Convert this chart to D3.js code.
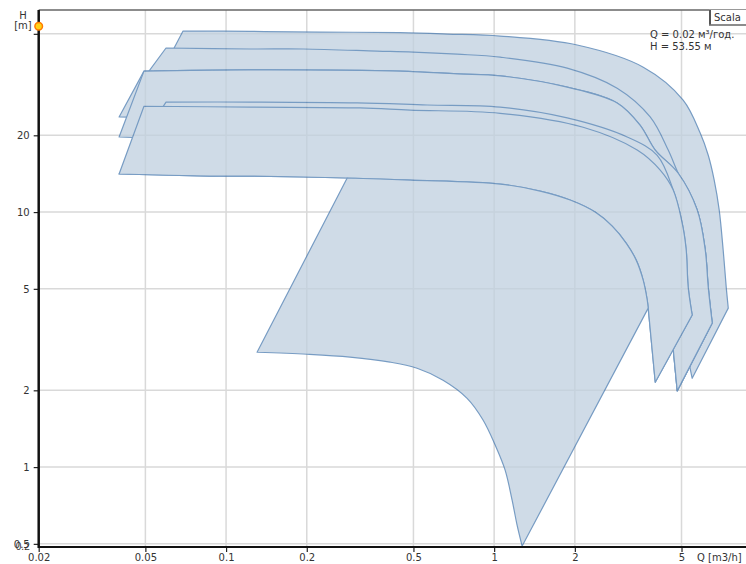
<!DOCTYPE html>
<html>
<head>
<meta charset="utf-8">
<script src="https://cdn.jsdelivr.net/npm/d3@7"></script>
<style>
  body { margin: 0; background: #fff; }
  svg { display: block; font-family: "DejaVu Sans", Arial, sans-serif; }
</style>
</head>
<body>
<svg id="chart" width="746" height="564"></svg>
<script>
// ---- axis ticks and grid ----
const qTicks = [0.02, 0.05, 0.1, 0.2, 0.5, 1, 2, 5];
const hTicks = [0.5, 1, 2, 5, 10, 20, 50];
const qGrid = [0.05, 0.1, 0.2, 0.5, 1, 2, 5];
const hGrid = [0.5, 1, 2, 5, 10, 20, 50];

// ---- pump range curves, [Q m3/h, H m] ----
const s1Top = [[0.0691,51.3],[0.123,51.1],[0.224,50.8],[0.446,50.5],[0.668,49.9],[1.053,49.0],[2.04,45.2],[3.60,37.0],[5.07,27.5],[5.87,20.4],[6.29,16.7],[6.62,13.35],[6.91,10.2],[7.15,7.1],[7.34,5.08],[7.47,4.2]];
const s1Min = [[5.48,2.23],[5.21,2.88],[4.74,4.52],[4.16,7.1],[3.22,10.2],[2.09,13.4],[1.05,16.0],[0.189,17.5],[0.052,17.5],[0.0462,22.9]];

const s2Top = [[0.0597,44.0],[0.123,43.6],[0.194,43.6],[0.366,42.8],[0.499,42.4],[0.728,41.6],[1.053,40.5],[1.873,36.7],[2.877,30.6],[3.82,23.6],[4.46,17.5],[4.86,14.2],[5.72,10.2],[6.13,7.1],[6.29,5.08],[6.51,3.67]];
const s2Min = [[4.82,1.99],[4.66,2.88],[4.54,3.77],[4.35,5.41],[3.82,7.77],[2.95,10.2],[2.09,12.8],[1.05,15.3],[0.189,17.5],[0.052,17.5],[0.0469,31.2]];

const s3Head = [[0.0494,35.7],[0.123,36.1],[0.446,35.7],[0.728,34.8],[1.053,34.2],[1.873,30.9],[2.877,26.8],[3.506,21.9],[3.99,17.5],[4.86,14.2]];
const s3aFoot = [[0.080,19.2],[0.0567,23.4],[0.0399,23.6]];
const s3bFoot = [[0.080,19.2],[0.0399,19.7]];

const eTop = [[0.0597,27.0],[0.123,27.0],[0.308,26.8],[0.562,26.3],[1.053,25.8],[1.873,23.4],[3.135,19.7],[4.058,16.7],[4.656,12.2]];

const fTop = [[0.0494,26.0],[0.123,25.8],[0.316,25.6],[0.486,25.1],[1.053,24.4],[2.148,21.5],[3.417,17.5],[4.164,14.6],[4.656,12.2],[5.03,9.05],[5.205,7.1],[5.295,5.08],[5.48,3.95]];
const fTip = [3.99, 2.15];
const fBottom = [[3.756,4.20],[3.724,4.52],[3.597,5.41],[3.388,6.48],[3.108,7.56],[2.756,8.81],[2.381,10.0],[1.921,11.15],[1.485,12.09],[1.053,12.88],[0.486,13.35],[0.283,13.6],[0.123,13.84],[0.087,13.84],[0.0399,14.1]];
const lTopIndex = 11; // fBottom point where the lower area starts

const lBottom = [[0.1305,2.82],[0.2005,2.77],[0.290,2.70],[0.409,2.58],[0.516,2.44],[0.645,2.19],[0.793,1.86],[0.909,1.53],[1.009,1.22],[1.099,0.973],[1.167,0.742],[1.218,0.592],[1.272,0.49]];

// cursor readout
const cursor = { q: 0.02, h: 53.55 };

// ---- scales ----
const x = d3.scaleLog().domain([0.02, 8.7]).range([38.7, 746]);
const y = d3.scaleLog().domain([0.486, 62]).range([547, 10]);
const [xL, xR] = x.range();
const [yB, yT] = y.range();

const svg = d3.select("#chart");

// ---- grid ----
const grid = svg.append("g").attr("stroke", "#d9d9d9").attr("stroke-width", 1.5);
grid.selectAll("line.v").data(qGrid).join("line").attr("class", "v")
  .attr("x1", d => x(d)).attr("x2", d => x(d)).attr("y1", yT).attr("y2", yB);
grid.selectAll("line.h").data(hGrid).join("line").attr("class", "h")
  .attr("x1", xL).attr("x2", xR).attr("y1", d => y(d)).attr("y2", d => y(d));

// ---- range areas ----
// each outline is a chain of smooth pieces (curves) and straight pieces
const curveGen = d3.line().x(d => x(d[0])).y(d => y(d[1])).curve(d3.curveCatmullRom.alpha(0.5));
function shapePath(pieces) {
  let d = "";
  pieces.forEach((p, i) => {
    let s;
    if (p.c && p.pts.length > 1) {
      s = curveGen(p.pts).replace(/Z$/, "").slice(1);
    } else {
      s = p.pts.map(pt => `${x(pt[0])},${y(pt[1])}`).join("L");
    }
    d += (i === 0 ? "M" : "L") + s;
  });
  return d + "Z";
}

const s3Top = s3Head.concat(s2Top.slice(12));
const eFull = eTop.concat(fTop.slice(9));

const shapes = [
  [{ c: true, pts: s1Top }, { c: false, pts: s1Min }],
  [{ c: true, pts: s2Top }, { c: false, pts: s2Min }],
  [{ c: true, pts: s3Top }, { c: false, pts: s2Min.slice(0, 9) }, { c: false, pts: s3aFoot }],
  [{ c: true, pts: s3Top }, { c: false, pts: s2Min.slice(0, 9) }, { c: false, pts: s3bFoot }],
  [{ c: true, pts: eFull }, { c: false, pts: [fTip] }, { c: true, pts: fBottom }],
  [{ c: true, pts: fTop }, { c: false, pts: [fTip] }, { c: true, pts: fBottom }],
  [{ c: false, pts: [fBottom[lTopIndex]] }, { c: true, pts: lBottom }, { c: false, pts: [fBottom[0]] }, { c: true, pts: fBottom.slice(0, lTopIndex + 1) }]
];

svg.append("g").attr("opacity", 0.75)
  .selectAll("path").data(shapes).join("path")
  .attr("d", shapePath)
  .attr("fill", "#c0d0df")
  .attr("stroke", "#4a7bb0")
  .attr("stroke-width", 1.2)
  .attr("stroke-linejoin", "round");

// ---- frame ----
svg.append("line").attr("x1", xL).attr("x2", xR).attr("y1", yT).attr("y2", yT)
  .attr("stroke", "#666").attr("stroke-width", 1.5);

// ---- axes ----
const yAxis = svg.append("g").attr("transform", `translate(${xL},0)`)
  .call(d3.axisLeft(y).tickValues(hTicks).tickSize(5).tickPadding(4)
    .tickFormat(d => d === 50 ? "" : String(d)));
yAxis.select(".domain").remove();
yAxis.selectAll("line").attr("stroke", "#222").attr("stroke-width", 1.2);
yAxis.selectAll("text").attr("font-size", 10).attr("fill", "#333").attr("font-family", "DejaVu Sans, Arial, sans-serif");
yAxis.append("text").attr("x", -9).attr("y", yB - 0.5).attr("dy", "0.32em")
  .attr("text-anchor", "end").attr("font-size", 10).attr("fill", "#333").text("0.2");

const xAxis = svg.append("g").attr("transform", `translate(0,${yB})`)
  .call(d3.axisBottom(x).tickValues(qTicks).tickSize(5).tickPadding(2)
    .tickFormat(d => String(d)));
xAxis.select(".domain").remove();
xAxis.selectAll("line").attr("stroke", "#222").attr("stroke-width", 1.2);
xAxis.selectAll("text").attr("font-size", 10).attr("fill", "#333").attr("font-family", "DejaVu Sans, Arial, sans-serif");

svg.append("line").attr("x1", xL).attr("x2", xL).attr("y1", yT).attr("y2", yB + 1)
  .attr("stroke", "#111").attr("stroke-width", 2.5);
svg.append("line").attr("x1", xL).attr("x2", xR).attr("y1", yB).attr("y2", yB)
  .attr("stroke", "#111").attr("stroke-width", 2);

// axis titles
svg.append("text").attr("x", 697).attr("y", 561).attr("font-size", 10).attr("fill", "#333").text("Q [m3/h]");
svg.append("text").attr("x", 23).attr("y", 19).attr("text-anchor", "middle").attr("font-size", 10).attr("fill", "#333").text("H");
svg.append("text").attr("x", 23).attr("y", 29).attr("text-anchor", "middle").attr("font-size", 10).attr("fill", "#333").text("[m]");

// cursor marker and readout
svg.append("circle").attr("cx", x(cursor.q)).attr("cy", y(cursor.h)).attr("r", 3.8)
  .attr("fill", "#ffd21a").attr("stroke", "#ff7a00").attr("stroke-width", 1.5);
svg.append("text").attr("x", 650).attr("y", 38).attr("font-size", 10).attr("fill", "#333")
  .text(`Q = ${cursor.q} м³/год.`);
svg.append("text").attr("x", 650).attr("y", 50).attr("font-size", 10).attr("fill", "#333")
  .text(`H = ${cursor.h} м`);

// scale toggle button
const btn = svg.append("g");
btn.append("rect").attr("x", 709.5).attr("y", 9.5).attr("width", 40).attr("height", 15.5)
  .attr("fill", "#fff").attr("stroke", "#999").attr("stroke-width", 1);
btn.append("line").attr("x1", 710).attr("x2", 710).attr("y1", 10).attr("y2", 25)
  .attr("stroke", "#555").attr("stroke-width", 2);
btn.append("line").attr("x1", 709).attr("x2", 746).attr("y1", 25).attr("y2", 25)
  .attr("stroke", "#777").attr("stroke-width", 1.5);
btn.append("text").attr("x", 714).attr("y", 21).attr("font-size", 10).attr("fill", "#333").text("Scala");
</script>
</body>
</html>
